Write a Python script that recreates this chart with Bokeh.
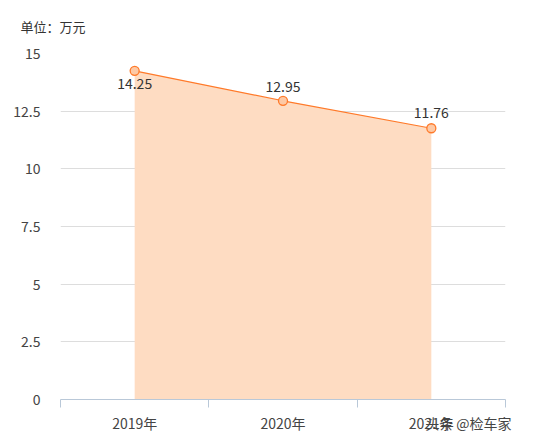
from bokeh.plotting import figure
from bokeh.models import Range1d, FixedTicker, Title, ColumnDataSource
from bokeh.embed import file_html
from bokeh.resources import INLINE
from bokeh.core.properties import value

years = ["2019年", "2020年", "2021年"]
prices = [14.25, 12.95, 11.76]
y_ticks = [0, 2.5, 5, 7.5, 10, 12.5, 15]
unit_text = "单位：万元"
watermark = "头条 @检车家"

# label placement (style): below for first, above for the rest (screen px, + is down)
label_offsets = [13, -14, -16]

xs = [i + 0.5 for i in range(len(years))]
wm_x = len(years) - 0.25  # watermark sits in the x-label row, bottom right
FONT = "Noto Sans CJK SC"

p = figure(width=530, height=435, output_backend="svg", toolbar_location=None,
           x_range=Range1d(0, len(years)), y_range=Range1d(0, 15),
           min_border_left=60, min_border_right=25, min_border_top=53, min_border_bottom=36)
p.outline_line_color = None
p.background_fill_color = "white"
p.border_fill_color = "white"

src = ColumnDataSource(dict(x=xs, y=prices, lbl=[f"{v:.2f}" for v in prices],
                            off=label_offsets))

p.varea(x="x", y1=0, y2="y", source=src, fill_color="#fedcc2", fill_alpha=1)
p.line(x="x", y="y", source=src, line_color="#ff7a2a", line_width=1.2)
p.scatter(x="x", y="y", source=src, size=9, fill_color="#fdc9a5", line_color="#ff7a2a", line_width=1.3)
p.text(x="x", y="y", text="lbl", y_offset="off", source=src, text_align="center",
       text_baseline="middle", text_font=value(FONT), text_font_size="14px", text_color="#333333")

# axes
p.xaxis.ticker = FixedTicker(ticks=xs + [wm_x], minor_ticks=list(range(len(years) + 1)))
overrides = {x: y for x, y in zip(xs, years)}
overrides[wm_x] = watermark
p.xaxis.major_label_overrides = overrides
p.xaxis.major_tick_line_color = None
p.xaxis.minor_tick_line_color = "#b9c8d8"
p.xaxis.minor_tick_in = 0
p.xaxis.minor_tick_out = 8
p.xaxis.axis_line_color = "#b9c8d8"
p.xaxis.major_label_text_font = FONT
p.xaxis.major_label_text_font_size = "14px"
p.xaxis.major_label_text_color = "#444444"
p.xaxis.major_label_standoff = 5

p.yaxis.ticker = FixedTicker(ticks=y_ticks)
p.yaxis.major_label_overrides = {0: "0", 2.5: "2.5", 5: "5", 7.5: "7.5", 10: "10", 12.5: "12.5", 15: "15"}
p.yaxis.axis_line_color = None
p.yaxis.major_tick_line_color = None
p.yaxis.minor_tick_line_color = None
p.yaxis.major_label_text_font = FONT
p.yaxis.major_label_text_font_size = "14px"
p.yaxis.major_label_text_color = "#444444"
p.yaxis.major_label_standoff = 14

p.xgrid.grid_line_color = None
p.ygrid.grid_line_color = "#dddddd"

p.add_layout(Title(text=unit_text, align="left", offset=-40, standoff=32,
                   vertical_align="top",
                   text_font=FONT, text_font_size="13px", text_font_style="normal",
                   text_color="#333333"), "above")

open("out.html", "w").write(file_html(p, INLINE))
